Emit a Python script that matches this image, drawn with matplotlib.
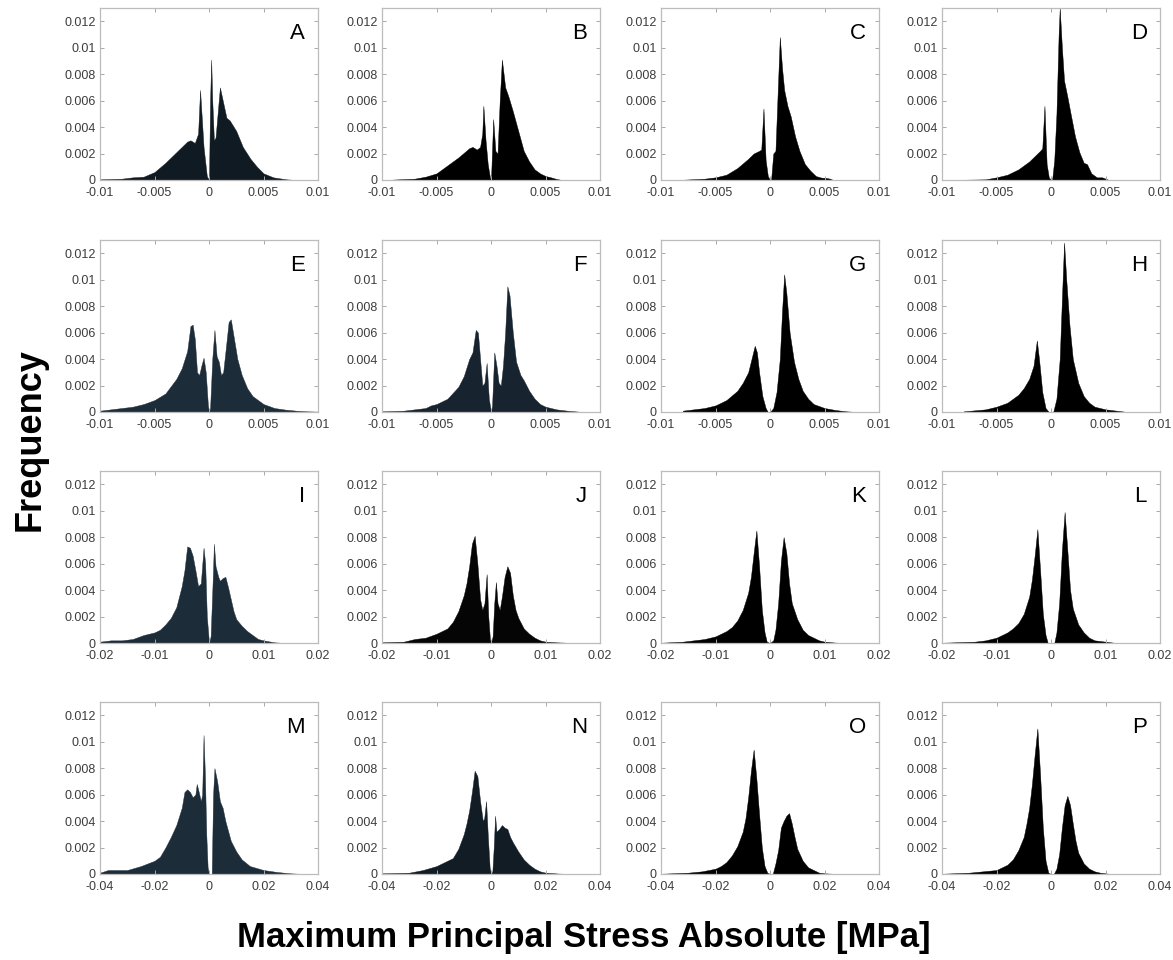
import matplotlib
matplotlib.use("Agg")
import matplotlib.pyplot as plt
import numpy as np

plt.rcParams['font.family'] = ['Liberation Sans', 'DejaVu Sans']
plt.rcParams['axes.unicode_minus'] = False

# ---- data (x and y in units of 1e-3) ----
A_x = [-10, -8, -7, -6, -5, -4, -3, -2, -1.7, -1.3, -1.0, -0.82, -0.5, -0.2, 0, 0.1, 0.2, 0.3, 0.45, 0.6, 1.0, 1.6, 1.9, 2.5, 3.1, 3.8, 4.4, 5.0, 5.9, 7.1, 8.0]
A_y = [0.05, 0.1, 0.2, 0.25, 0.6, 1.3, 2.1, 2.9, 3.0, 2.8, 3.5, 6.8, 2.5, 0.3, 0, 6.0, 9.1, 6.0, 3.0, 3.2, 7.0, 4.7, 4.5, 3.7, 2.5, 1.6, 1.0, 0.5, 0.2, 0.05, 0]

B_x = [-9, -7, -6, -5, -4, -3, -2, -1.7, -1.3, -1.0, -0.8, -0.7, -0.5, -0.3, -0.1, 0, 0.2, 0.4, 0.6, 0.8, 1.0, 1.3, 1.6, 2.0, 2.5, 3.0, 3.5, 4.0, 4.5, 5.0, 5.5, 6.0, 6.5]
B_y = [0.03, 0.1, 0.25, 0.5, 1.1, 1.7, 2.4, 2.5, 2.3, 2.5, 3.5, 5.6, 3.0, 1.2, 0.2, 0, 4.6, 2.2, 2.0, 6.0, 9.1, 7.0, 6.3, 5.2, 3.7, 2.2, 1.4, 0.8, 0.5, 0.3, 0.2, 0.08, 0]

C_x = [-8, -6, -5, -4, -3, -2, -1.5, -1.0, -0.8, -0.6, -0.4, -0.2, 0, 0.1, 0.3, 0.5, 0.7, 0.9, 1.1, 1.3, 1.6, 1.9, 2.3, 2.7, 3.2, 3.7, 4.2, 4.7, 5.2, 5.5, 5.8]
C_y = [0.02, 0.1, 0.2, 0.4, 0.9, 1.6, 2.0, 2.2, 2.3, 5.4, 1.5, 0.3, 0, 0, 2.0, 2.2, 6.5, 10.8, 8.5, 6.8, 5.6, 4.8, 3.3, 2.2, 1.2, 0.7, 0.3, 0.18, 0.15, 0.1, 0]

D_x = [-8, -6, -5, -4, -3, -2, -1.5, -1.0, -0.8, -0.6, -0.4, -0.2, 0, 0.1, 0.3, 0.5, 0.7, 0.8, 1.0, 1.2, 1.5, 1.8, 2.2, 2.6, 3.0, 3.3, 3.7, 4.2, 4.7, 5.0, 5.3]
D_y = [0.02, 0.05, 0.2, 0.4, 0.8, 1.4, 1.8, 2.2, 2.4, 5.6, 1.2, 0.2, 0, 0, 1.5, 5.0, 11.0, 13.0, 10.0, 7.5, 6.3, 5.0, 3.3, 2.1, 1.3, 1.2, 0.5, 0.2, 0.2, 0.1, 0]

E_x = [-10, -9, -8, -7, -6, -5, -4, -3, -2.5, -2, -1.7, -1.5, -1.3, -1.1, -0.9, -0.7, -0.5, -0.3, -0.1, 0, 0.1, 0.3, 0.5, 0.7, 0.9, 1.1, 1.3, 1.5, 1.8, 2.0, 2.3, 2.6, 3.0, 3.5, 4.0, 5.0, 6.0, 7.0, 8.0, 9.0, 10.0]
E_y = [0.1, 0.2, 0.3, 0.4, 0.6, 0.9, 1.4, 2.5, 3.3, 4.6, 6.5, 6.6, 5.5, 3.0, 2.8, 3.5, 4.1, 3.0, 0.5, 0, 0.3, 4.0, 6.2, 4.2, 3.8, 2.8, 3.0, 4.5, 6.8, 7.0, 5.5, 4.0, 2.8, 1.8, 1.2, 0.6, 0.3, 0.18, 0.1, 0.05, 0.03]

F_x = [-10, -8, -7, -6, -5.5, -5, -4, -3, -2.5, -2, -1.7, -1.4, -1.2, -1.0, -0.8, -0.6, -0.4, -0.2, 0, 0.1, 0.3, 0.5, 0.7, 0.9, 1.1, 1.3, 1.5, 1.7, 2.0, 2.3, 2.7, 3.0, 3.5, 4.0, 4.5, 5.0, 6.0, 7.0, 8.0, 8.5]
F_y = [0.05, 0.1, 0.2, 0.3, 0.5, 0.6, 1.0, 1.9, 2.7, 4.0, 4.5, 6.2, 6.0, 4.0, 2.0, 2.2, 3.7, 1.0, 0, 0.5, 4.5, 3.5, 2.2, 2.0, 3.5, 6.0, 9.5, 8.8, 6.0, 3.8, 2.8, 2.4, 1.6, 1.0, 0.6, 0.4, 0.2, 0.1, 0.03, 0]

G_x = [-8, -6, -5, -4, -3, -2.5, -2, -1.7, -1.4, -1.2, -1.0, -0.7, -0.4, -0.2, 0, 0.3, 0.6, 0.9, 1.1, 1.3, 1.5, 1.8, 2.2, 2.6, 3.0, 3.5, 4.0, 5.0, 6.0, 7.0, 8.0]
G_y = [0.1, 0.3, 0.5, 0.9, 1.6, 2.2, 3.0, 4.0, 5.0, 4.5, 3.0, 1.2, 0.3, 0, 0, 0.3, 1.5, 4.0, 7.5, 10.4, 9.0, 6.0, 3.8, 2.5, 1.6, 1.0, 0.6, 0.3, 0.15, 0.05, 0]

H_x = [-8, -6, -5, -4, -3, -2.5, -2, -1.6, -1.3, -1.1, -0.8, -0.5, -0.2, 0.2, 0.5, 0.8, 1.0, 1.2, 1.4, 1.7, 2.0, 2.5, 3.0, 3.5, 4.0, 5.0, 6.0, 7.0]
H_y = [0.05, 0.2, 0.4, 0.7, 1.3, 1.8, 2.5, 3.5, 5.4, 4.0, 1.5, 0.3, 0, 0, 1.0, 4.0, 8.5, 12.8, 10.0, 6.5, 4.0, 2.2, 1.2, 0.7, 0.4, 0.2, 0.1, 0]

I_x = [-20, -18, -16, -14, -12, -10, -9, -8, -7, -6, -5, -4.5, -4, -3.5, -3, -2.5, -2, -1.5, -1.0, -0.7, -0.4, 0, 0.3, 0.7, 0.9, 1.2, 1.7, 2.0, 2.5, 3.0, 3.5, 4.0, 4.5, 5.0, 6.0, 7.0, 8.0, 9.0, 10.0, 12.0, 14.0]
I_y = [0.1, 0.2, 0.2, 0.3, 0.6, 0.8, 1.0, 1.4, 1.9, 2.7, 4.3, 5.5, 7.3, 7.2, 6.6, 5.5, 4.3, 4.5, 7.2, 6.0, 2.0, 0, 0.5, 5.0, 7.5, 5.8, 5.0, 4.7, 4.9, 5.0, 4.2, 3.3, 2.4, 1.8, 1.3, 0.9, 0.6, 0.3, 0.2, 0.05, 0]

J_x = [-20, -16, -14, -12, -10, -9, -8, -7, -6, -5, -4.5, -4, -3.5, -3, -2.5, -2, -1.6, -1.2, -0.8, -0.5, -0.2, 0, 0.3, 0.6, 0.9, 1.2, 1.6, 2.0, 2.5, 3.0, 3.5, 4.0, 4.5, 5.0, 6.0, 7.0, 8.0, 9.0, 10.0, 12.0, 14.0, 16.0]
J_y = [0.05, 0.1, 0.3, 0.4, 0.7, 0.9, 1.1, 1.6, 2.4, 3.6, 4.5, 5.8, 7.5, 8.1, 6.0, 3.3, 2.5, 3.0, 5.2, 2.0, 0.3, 0, 0.5, 3.0, 4.6, 3.0, 2.5, 3.5, 5.0, 5.8, 5.3, 3.6, 2.5, 1.9, 1.1, 0.7, 0.4, 0.2, 0.1, 0.05, 0.02, 0]

K_x = [-20, -16, -14, -12, -10, -8, -7, -6, -5, -4, -3.5, -3, -2.5, -2, -1.5, -1.0, -0.6, 0, 0.6, 1.0, 1.5, 2.0, 2.5, 3.0, 3.5, 4.0, 5.0, 6.0, 7.0, 8.0, 9.0, 10.0, 12.0, 14.0]
K_y = [0.02, 0.1, 0.2, 0.3, 0.5, 0.9, 1.2, 1.7, 2.5, 3.8, 5.0, 6.8, 8.5, 5.8, 2.5, 0.8, 0.1, 0, 0.2, 1.0, 3.0, 6.2, 8.0, 6.8, 4.5, 3.0, 1.8, 1.0, 0.6, 0.4, 0.2, 0.1, 0.03, 0]

L_x = [-20, -14, -12, -10, -8, -7, -6, -5, -4, -3.5, -3, -2.5, -2, -1.5, -1.0, -0.6, 0.6, 1.0, 1.5, 2.0, 2.5, 3.0, 3.5, 4.0, 5.0, 6.0, 7.0, 8.0, 10.0, 12.0]
L_y = [0.02, 0.1, 0.2, 0.4, 0.8, 1.1, 1.5, 2.2, 3.5, 4.8, 6.6, 8.6, 5.5, 2.2, 0.6, 0, 0, 0.8, 3.0, 7.0, 9.9, 7.0, 4.0, 2.6, 1.4, 0.8, 0.4, 0.2, 0.1, 0]

M_x = [-40, -37, -34, -30, -25, -20, -18, -16, -14, -12, -10, -9, -8, -7, -6, -5, -4.5, -4, -3, -2.5, -2, -1.5, -1.0, -0.5, 0, 1.0, 1.5, 2.0, 3.0, 4.0, 5.0, 6.0, 8.0, 10.0, 12.0, 15.0, 20.0, 25.0, 30.0, 35.0]
M_y = [0.1, 0.3, 0.3, 0.3, 0.6, 1.0, 1.3, 2.0, 2.8, 3.7, 5.0, 6.2, 6.4, 6.2, 5.8, 6.0, 6.8, 6.4, 5.5, 6.0, 10.5, 7.5, 3.0, 0.5, 0, 0, 6.0, 8.0, 7.0, 5.5, 5.0, 4.0, 2.5, 1.7, 1.1, 0.6, 0.3, 0.15, 0.05, 0]

N_x = [-40, -30, -25, -20, -18, -16, -14, -12, -10, -9, -8, -7, -6, -5, -4, -3, -2.5, -1.8, -1.2, -0.5, 0, 0.5, 1.0, 1.5, 2.0, 3.0, 4.0, 5.0, 6.0, 7.0, 8.0, 10.0, 12.0, 14.0, 16.0, 18.0, 20.0, 25.0, 30.0]
N_y = [0.05, 0.1, 0.3, 0.6, 0.8, 1.0, 1.2, 1.9, 3.0, 3.8, 4.8, 6.2, 7.8, 7.4, 5.5, 4.0, 4.2, 5.5, 3.0, 0.5, 0, 0.2, 2.0, 4.4, 3.2, 3.4, 3.7, 3.5, 3.4, 2.8, 2.4, 1.7, 1.1, 0.7, 0.4, 0.2, 0.1, 0.03, 0]

O_x = [-40, -30, -25, -20, -18, -16, -14, -12, -10, -9, -8, -7, -6, -5, -4, -3, -2, -1, 0, 1, 2, 3, 4, 5, 6, 7, 8, 9, 10, 12, 14, 16, 18, 20, 25]
O_y = [0.02, 0.1, 0.2, 0.4, 0.6, 0.9, 1.4, 2.1, 3.2, 4.2, 5.8, 7.8, 9.4, 7.2, 4.5, 2.0, 0.6, 0.1, 0, 0, 0.8, 1.8, 3.5, 4.0, 4.4, 4.6, 3.8, 2.8, 1.9, 1.0, 0.5, 0.3, 0.1, 0.05, 0]

P_x = [-40, -30, -25, -20, -18, -16, -14, -12, -10, -9, -8, -7, -6, -5, -4, -3, -2, -1, 0, 1, 2, 3, 4, 5, 6, 7, 8, 9, 10, 12, 14, 16, 18, 20, 22]
P_y = [0.02, 0.1, 0.2, 0.3, 0.5, 0.7, 1.1, 1.8, 2.8, 3.8, 5.0, 6.8, 9.0, 11.0, 7.5, 3.5, 1.0, 0.1, 0, 0, 0.4, 1.5, 3.5, 5.2, 5.9, 5.2, 3.8, 2.5, 1.6, 0.8, 0.4, 0.2, 0.1, 0.05, 0]

panel_labels = list("ABCDEFGHIJKLMNOP")
panel_x = [A_x, B_x, C_x, D_x, E_x, F_x, G_x, H_x, I_x, J_x, K_x, L_x, M_x, N_x, O_x, P_x]
panel_y = [A_y, B_y, C_y, D_y, E_y, F_y, G_y, H_y, I_y, J_y, K_y, L_y, M_y, N_y, O_y, P_y]
row_xlim = [0.01, 0.01, 0.02, 0.04]
row_xticks = [[-0.01, -0.005, 0, 0.005, 0.01],
              [-0.01, -0.005, 0, 0.005, 0.01],
              [-0.02, -0.01, 0, 0.01, 0.02],
              [-0.04, -0.02, 0, 0.02, 0.04]]
yticks = [0, 0.002, 0.004, 0.006, 0.008, 0.01, 0.012]
UNIT = 1e-3

navy = '#1d2c39'
panel_colors = ['#0f1a22', '#000000', '#000000', '#000000',
                navy, '#17242f', '#000000', '#000000',
                navy, '#050505', '#000000', '#000000',
                navy, '#121c25', '#000000', '#000000']

W, H = 1173, 960
fig = plt.figure(figsize=(W / 100, H / 100), dpi=100)

col_left = [100, 382, 661, 942]
row_top = [8, 240, 471, 702]
aw, ah = 218, 172

def fmt(v, pos=None):
    return '%g' % round(v, 6)

for i, lab in enumerate(panel_labels):
    r, c = divmod(i, 4)
    l = col_left[c] / W
    b = 1 - (row_top[r] + ah) / H
    ax = fig.add_axes([l, b, aw / W, ah / H])
    x = np.array(panel_x[i]) * UNIT
    y = np.array(panel_y[i]) * UNIT
    ax.fill_between(x, y, 0, color=panel_colors[i], linewidth=0.3, edgecolor=panel_colors[i])
    ax.set_xlim(-row_xlim[r], row_xlim[r])
    ax.set_ylim(0, 0.013)
    ax.set_xticks(row_xticks[r])
    ax.set_yticks(yticks)
    ax.xaxis.set_major_formatter(plt.FuncFormatter(fmt))
    ax.yaxis.set_major_formatter(plt.FuncFormatter(fmt))
    ax.tick_params(direction='in', length=3, width=0.7, color='#a8a8a8',
                   top=True, right=True, labelsize=9, labelcolor='#3c3c3c')
    ax.tick_params(axis='x', pad=5)
    ax.tick_params(axis='y', pad=3)
    for s in ax.spines.values():
        s.set_color('#bcbcbc')
        s.set_linewidth(0.9)
    ax.text(0.94, 0.91, lab, transform=ax.transAxes, ha='right', va='top',
            fontsize=16, color='black')

fig.text(30 / W, 1 - 440 / H, 'Frequency', rotation=90, ha='center', va='center',
         fontsize=26, fontweight='bold')
fig.text(584 / W, 1 - 937 / H, 'Maximum Principal Stress Absolute [MPa]', ha='center',
         va='center', fontsize=25, fontweight='bold')

fig.savefig('out.png', dpi=100)
